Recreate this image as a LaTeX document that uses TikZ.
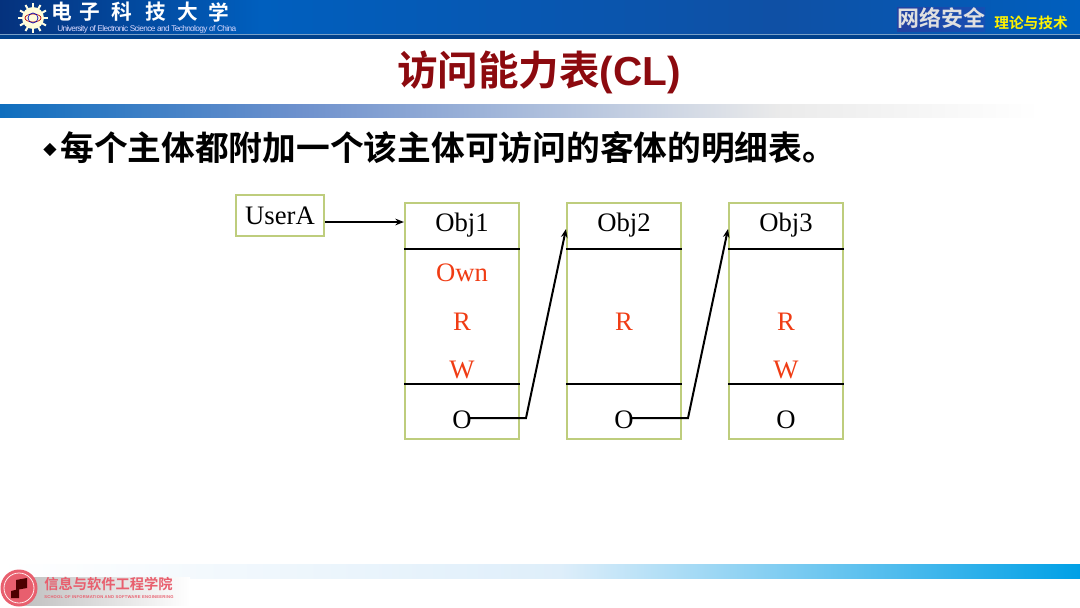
\documentclass[tikz,border=0pt]{standalone}
\usepackage{fontspec}
\setmainfont{Liberation Serif}
\newfontfamily\cjkb[Scale=1]{Noto Sans CJK SC Bold}
\newfontfamily\cjkr{Noto Sans CJK SC}
\newfontfamily\sansf{Liberation Sans}
\newfontfamily\symf{DejaVu Sans}
\definecolor{boxline}{RGB}{190,205,125}
\definecolor{redtext}{RGB}{240,60,20}
\definecolor{titlered}{RGB}{140,10,15}
\definecolor{navyA}{RGB}{5,50,125}
\definecolor{blueB}{RGB}{0,95,190}
\definecolor{blueC}{RGB}{15,80,165}
\definecolor{bandblue}{RGB}{15,110,190}
\definecolor{bandmid}{RGB}{110,145,205}
\definecolor{skyband}{RGB}{0,160,230}
\definecolor{paleband}{RGB}{222,238,250}
\definecolor{pinktext}{RGB}{232,95,110}
\definecolor{stripdark}{RGB}{0,65,140}
\definecolor{stripline}{RGB}{120,160,200}
\definecolor{netA}{RGB}{35,65,160}
\definecolor{netB}{RGB}{20,80,180}
\usetikzlibrary{arrows.meta}
\tikzset{
 objbox/.style={draw=boxline,line width=1.2pt,fill=white,minimum width=114.5*0.75pt,minimum height=236*0.75pt,inner sep=0pt},
 userbox/.style={draw=boxline,line width=1.2pt,fill=white,minimum width=88*0.75pt,minimum height=41*0.75pt,inner sep=0pt,font=\fontsize{20}{24}\selectfont},
 blk/.style={font=\fontsize{20}{24}\selectfont,text=black,inner sep=0pt},
 redt/.style={font=\fontsize{20}{24}\selectfont,text=redtext,inner sep=0pt},
 divider/.style={line width=1.7pt,black},
 conn/.style={line width=1.5pt,black,line join=miter},
 tip/.style={-{Stealth[length=6.5pt,width=5pt]}},
}
\begin{document}
\begin{tikzpicture}[x=0.75pt,y=-0.75pt]
\useasboundingbox (0,0) rectangle (1080,607);
% header
\shade[left color=navyA,right color=blueB] (0,0) rectangle (260,34);
\shade[left color=blueB,right color=blueC] (260,0) rectangle (780,34);
\shade[left color=blueC,right color=blueB] (780,0) rectangle (1080,34);
\fill[stripline] (0,33.5) rectangle (1080,35);
\fill[stripdark] (0,35) rectangle (1080,39);
% university logo
\foreach \a in {0,30,...,330}{\draw[white!90!yellow,line width=1.5pt] (33,18) -- ++(\a:15);}
\fill[white!85!yellow] (33,18) circle (11);
\draw[red!70!black,line width=.5pt] (33,18) ellipse (8 and 4);
\draw[blue!70!black,line width=.5pt] (33,18) circle (5);
% university name
\foreach \c/\x in {电/62,子/90,科/122,技/156,大/188,学/219}{
 \node[font=\cjkb\fontsize{15.5}{18}\selectfont,text=white,inner sep=0pt] (u\x) at (\x,12) {\c};}
\node[font=\sansf\fontsize{6.2}{7}\selectfont,text=white!85!blue,inner sep=0pt,anchor=west] (uen) at (57,29.5) {\addfontfeature{LetterSpace=-7.6}University of Electronic Science and Technology of China};
% right header
\shade[left color=netA,right color=netB] (897,7) rectangle (985,31);
\node[font=\cjkb\fontsize{16.5}{18}\selectfont,text=black!12,inner sep=0pt] (net) at (941,18.5) {网络安全};
\node[font=\cjkb\fontsize{11}{12}\selectfont,text=yellow,inner sep=0pt] (thy) at (1031,22.5) {理论与技术};
% title
\node[font=\cjkb\fontsize{30.4}{34}\selectfont,text=titlered,inner sep=0pt] (title) at (539,72) {访问能力表{\sansf\bfseries (CL)}};
% band under title
\shade[left color=bandblue,right color=bandmid] (0,104) rectangle (300,117);
\shade[left color=bandmid,right color=black!8] (300,104) rectangle (780,117);
\shade[left color=black!8,right color=white] (780,104) rectangle (1040,117);
% body line
\node[font=\symf\fontsize{13}{16}\selectfont,inner sep=0pt,text=black] (dia) at (50,150) {◆};
\node[font=\cjkb\fontsize{25.3}{30}\selectfont,anchor=west,inner sep=0pt,text=black] (body) at (60,148) {每个主体都附加一个该主体可访问的客体的明细表。};
% boxes
\node[userbox] (user) at (280,215.5) {UserA};
\node[objbox] (b1) at (462,321) {};
\node[objbox] (b2) at (624,321) {};
\node[objbox] (b3) at (786,321) {};
\foreach \n in {1,2,3}{
 \draw[divider] (b\n.west |- 0,249) -- (b\n.east |- 0,249);
 \draw[divider] (b\n.west |- 0,384) -- (b\n.east |- 0,384);
}
\foreach \n/\x in {1/462,2/624,3/786}{
 \node[blk] (obj\n) at (\x,225) {Obj\n};
 \node[blk] (o\n) at (\x,419.5) {O};
}
\node[redt] (own) at (462,273) {Own};
\node[redt] (r1) at (462,322) {R};
\node[redt] (w1) at (462,370) {W};
\node[redt] (r2) at (624,322) {R};
\node[redt] (r3) at (786,322) {R};
\node[redt] (w3) at (786,370) {W};
% connectors
\coordinate (in1) at (b1.west |- 0,222);
\coordinate (in2) at (566,229);
\coordinate (in3) at (728,229);
\coordinate (s1) at (470,418);
\coordinate (s2) at (632,418);
\draw[conn,tip] (user.east |- in1) -- (in1);
\draw[conn,tip] (s1) -- (526,418) -- (in2);
\draw[conn,tip] (s2) -- (688,418) -- (in3);
% bottom band
\shade[left color=white,right color=paleband] (0,564) rectangle (560,578);
\shade[left color=paleband,right color=skyband] (560,564) rectangle (1080,578);
% school logo and label
\shade[left color=black!25,right color=white] (20,577) rectangle (190,605);
\fill[pinktext] (19,588) circle (18.5);
\draw[white!70!pink,line width=.6pt] (19,588) circle (15);
\fill[black!70!red] (11,591) -- (19,589) -- (19,598) -- (11,598) -- cycle;
\fill[black!70!red] (16,580) -- (27,578) -- (27,588) -- (16,590) -- cycle;
\node[font=\cjkb\fontsize{10.7}{12}\selectfont,text=pinktext,inner sep=0pt,anchor=west] (sch) at (44,584) {信息与软件工程学院};
\node[font=\sansf\bfseries\fontsize{3.1}{4}\selectfont,text=pinktext,inner sep=0pt,anchor=west] (schen) at (44,597) {\addfontfeature{LetterSpace=6}SCHOOL OF INFORMATION AND SOFTWARE ENGINEERING};
\end{tikzpicture}
\end{document}
